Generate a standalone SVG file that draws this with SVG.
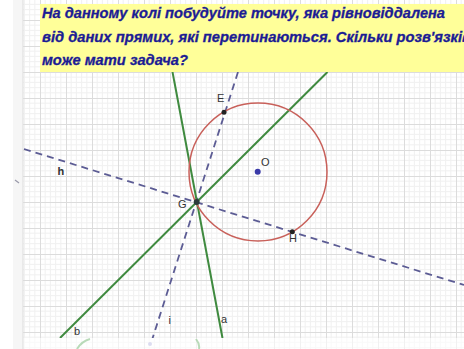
<svg xmlns="http://www.w3.org/2000/svg" width="464" height="349" viewBox="0 0 464 349">
<style>
.minor{stroke:#f1f1f1;stroke-width:1}
.major{stroke:#dcdcdc;stroke-width:1}
.green{stroke:#3f8a3f;stroke-width:2;fill:none}
.dash{stroke:#5c5c94;stroke-width:1.8;fill:none;stroke-dasharray:7 5}
.lbl{font-family:"Liberation Sans",Arial,sans-serif;font-size:11px;fill:#333333}
.q{font-family:"Liberation Sans",Arial,sans-serif;font-size:14.5px;font-weight:bold;font-style:italic;fill:#1c1c94;stroke:#1c1c94;stroke-width:0.3}
.pt{fill:#222222}
</style>
<defs>
<pattern id="grid" patternUnits="userSpaceOnUse" x="40" y="20" width="26" height="26">
<rect width="26" height="26" fill="#ffffff"/>
<path class="minor" d="M5.2 0V26M10.4 0V26M15.6 0V26M20.8 0V26M0 5.2H26M0 10.4H26M0 15.6H26M0 20.8H26"/>
<path class="major" d="M0.5 0V26M0 0.5H26"/>
</pattern>
<clipPath id="plot"><rect x="23" y="0" width="441" height="338"/></clipPath>
</defs>
<rect width="464" height="349" fill="#ffffff"/>
<rect x="23" y="0" width="441" height="338" fill="url(#grid)"/>
<rect x="23" y="338" width="441" height="11" fill="url(#grid)" opacity="0.4"/>
<g id="leftstrip">
<rect x="13" y="0" width="10" height="349" fill="#f6f6f6"/>
<line x1="23" y1="0" x2="23" y2="349" stroke="#dddddd"/>
<path d="M15 180l4 3" stroke="#9999aa" stroke-width="1.2"/>
</g>
<g id="bottom-icons" fill="none" stroke-width="2" opacity="0.7">
<path d="M77 349 Q82 341 90 339" stroke="#9ccc9c"/>
<circle cx="150" cy="344" r="2" fill="#d0d0ec" stroke="none"/>
<path d="M196 339 Q200 344 199 349" stroke="#9ccc9c"/>
</g>
<g id="connectors" clip-path="url(#plot)">
<line id="line-h" class="dash" x1="24" y1="149" x2="464" y2="285"/>
<line id="line-i" class="dash" x1="238" y1="72" x2="152" y2="340"/>
<line id="line-a" class="green" x1="172.5" y1="72" x2="222.5" y2="338"/>
<line id="line-b" class="green" x1="327.5" y1="72" x2="60" y2="338"/>
</g>
<g id="circle-c">
<circle cx="258" cy="172" r="69" fill="none" stroke="#c8605a" stroke-width="1.5"/>
</g>
<g id="point-O">
<circle cx="257.7" cy="171.7" r="3" fill="#3a3aa8"/>
<text class="lbl" x="261" y="166">O</text>
</g>
<g id="point-E">
<circle class="pt" cx="224" cy="112.3" r="2.5"/>
<text class="lbl" x="217" y="102">E</text>
</g>
<g id="point-G">
<circle cx="196.7" cy="202" r="3" fill="#2c3a3a"/>
<text class="lbl" x="178" y="208">G</text>
</g>
<g id="point-H">
<circle class="pt" cx="292.3" cy="231.7" r="2.5"/>
<text class="lbl" x="289" y="242">H</text>
</g>
<g id="labels">
<text class="lbl" x="57.5" y="175" font-weight="bold">h</text>
<text class="lbl" x="168.5" y="324" font-size="10">i</text>
<text class="lbl" x="221" y="323" fill="#2e5e2e">a</text>
<text class="lbl" x="74" y="335" fill="#2e5e2e">b</text>
</g>
<g id="task">
<rect x="40" y="4" width="424" height="68" fill="#ffff99"/>
<text class="q" x="42" y="18" textLength="403" lengthAdjust="spacingAndGlyphs">На данному колі побудуйте точку, яка рівновіддалена</text>
<text class="q" x="42" y="42" textLength="429" lengthAdjust="spacingAndGlyphs">від даних прямих, які перетинаються. Скільки розв'язків</text>
<text class="q" x="42" y="65" textLength="146" lengthAdjust="spacingAndGlyphs">може мати задача?</text>
</g>
</svg>
